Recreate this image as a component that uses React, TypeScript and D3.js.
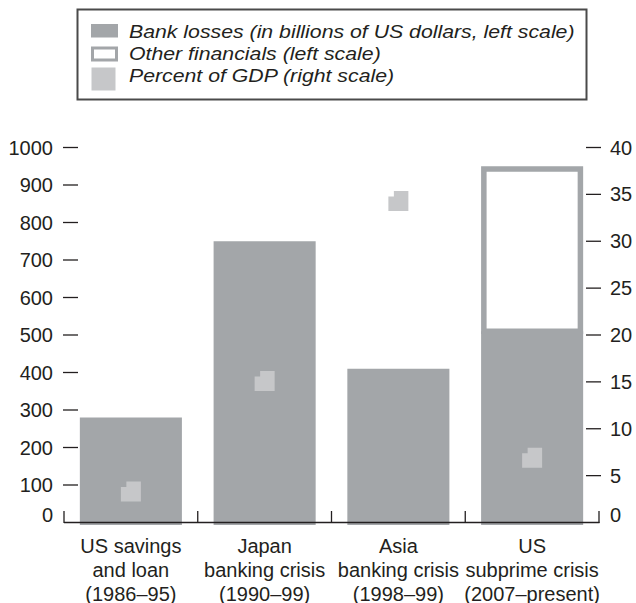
import React from "react";
import * as d3 from "d3";

const categories = ["US savings and loan", "Japan banking crisis", "Asia banking crisis", "US subprime crisis"];
const categoryLines = [
  ["US savings", "and loan", "(1986–95)"],
  ["Japan", "banking crisis", "(1990–99)"],
  ["Asia", "banking crisis", "(1998–99)"],
  ["US", "subprime crisis", "(2007–present)"],
];
const bankLosses = [280, 750, 410, 510];
const otherFinancials = [0, 0, 0, 440];
const percentGDP = [3.3, 15.1, 34.3, 6.9];
const leftTicks = [0, 100, 200, 300, 400, 500, 600, 700, 800, 900, 1000];
const rightTicks = [0, 5, 10, 15, 20, 25, 30, 35, 40];
const legendItems = [
  "Bank losses (in billions of US dollars, left scale)",
  "Other financials (left scale)",
  "Percent of GDP (right scale)",
];

const W = 636;
const H = 603;
const BAR = "#a3a6a9";
const MARK = "#c6c7c9";
const INK = "#231f20";
const FONT = "'Liberation Sans', Arial, Helvetica, sans-serif";

export default function App() {
  const x = d3.scaleBand<string>().domain(categories).range([64, 599]).paddingInner(0.237).paddingOuter(0.1185);
  const yL = d3.scaleLinear().domain([0, 1000]).range([522.5, 147.5]);
  const yR = d3.scaleLinear().domain([0, 40]).range([522.5, 147.5]);
  const step = x.step();
  const bw = x.bandwidth();
  const sw = 5.5;
  const ms = 20;
  const notch = 5.5;

  const markerPath = (cx: number, cy: number) => {
    const x0 = cx - ms / 2, x1 = cx + ms / 2, y0 = cy - ms / 2, y1 = cy + ms / 2;
    return `M${x0 + notch},${y0}H${x1}V${y1}H${x0}V${y0 + notch}H${x0 + notch}Z`;
  };

  const boundaries = d3.range(categories.length + 1).map((i) => 64 + i * step);

  return (
    <div style={{ position: "absolute", left: 0, top: 0 }}>
      <svg width={W} height={H} style={{ display: "block", fontFamily: FONT }}>
        <rect width={W} height={H} fill="#fff" />
        {/* Legend */}
        <rect x={77.5} y={9.5} width={509} height={90} fill="none" stroke="#4a4a4a" strokeWidth={2} />
        <rect x={91} y={24} width={27} height={13.5} fill={BAR} />
        <rect x={92.5} y={48} width={24} height={12} fill="#fff" stroke={BAR} strokeWidth={3} />
        <rect x={91.5} y={67.5} width={24} height={23} fill={MARK} />
        {legendItems.map((t, i) => (
          <text
            key={t}
            transform={`translate(129,${37.5 + i * 22.2}) scale(1.12,1)`}
            fontSize={19}
            fontStyle="italic"
            fill={INK}
          >
            {t}
          </text>
        ))}

        {/* Bars */}
        {categories.map((c, i) => (
          <rect key={c} x={x(c)} y={yL(bankLosses[i])} width={bw} height={yL(0) - yL(bankLosses[i]) + 2.5} fill={BAR} />
        ))}
        {categories.map((c, i) =>
          otherFinancials[i] > 0 ? (
            <rect
              key={c + "o"}
              x={(x(c) as number) + sw / 2}
              y={yL(bankLosses[i] + otherFinancials[i]) + sw / 2}
              width={bw - sw}
              height={yL(bankLosses[i]) - yL(bankLosses[i] + otherFinancials[i]) - sw / 2}
              fill="#fff"
              stroke={BAR}
              strokeWidth={sw}
            />
          ) : null
        )}
        {categories.map((c, i) => (
          <path key={c + "m"} d={markerPath((x(c) as number) + bw / 2, yR(percentGDP[i]))} fill={MARK} />
        ))}

        {/* Baseline and boundary ticks */}
        <line x1={64} x2={599.5} y1={522.5} y2={522.5} stroke={INK} strokeWidth={1.6} />
        {boundaries.map((bx, i) => (
          <line key={i} x1={bx} x2={bx} y1={511} y2={523} stroke={INK} strokeWidth={1.3} />
        ))}

        {/* Left axis */}
        {leftTicks.map((t) => (
          <g key={"l" + t}>
            {t > 0 && <line x1={63} x2={78} y1={yL(t)} y2={yL(t)} stroke={INK} strokeWidth={1.3} />}
            <text x={53} y={t > 0 ? yL(t) : yL(t) - 8} fontSize={20} textAnchor="end" dominantBaseline="central" fill={INK}>
              {t}
            </text>
          </g>
        ))}
        {/* Right axis */}
        {rightTicks.map((t) => (
          <g key={"r" + t}>
            {t > 0 && <line x1={586} x2={601} y1={yR(t)} y2={yR(t)} stroke={INK} strokeWidth={1.3} />}
            <text x={610} y={t > 0 ? yR(t) : yR(t) - 8} fontSize={20} textAnchor="start" dominantBaseline="central" fill={INK}>
              {t}
            </text>
          </g>
        ))}

        {/* Category labels */}
        {categories.map((c, i) => (
          <text key={c + "t"} x={(x(c) as number) + bw / 2} textAnchor="middle" fontSize={20} fill={INK}>
            {categoryLines[i].map((ln, j) => (
              <tspan key={j} x={(x(c) as number) + bw / 2} y={552.5 + j * 24}>
                {ln}
              </tspan>
            ))}
          </text>
        ))}
      </svg>
    </div>
  );
}
